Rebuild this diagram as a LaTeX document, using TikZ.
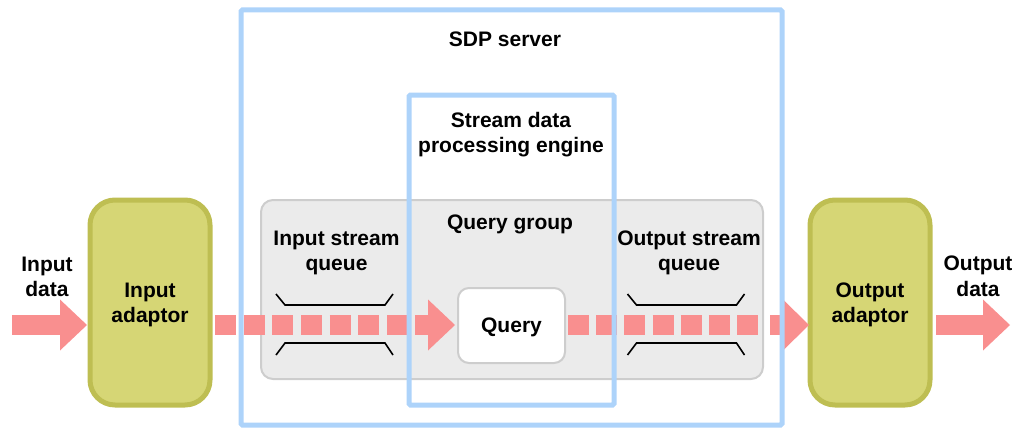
\documentclass[tikz,border=0pt]{standalone}
\usepackage{fontspec}
\setmainfont{Liberation Sans}
\usetikzlibrary{calc}

\definecolor{flowpink}{RGB}{249,143,143}
\definecolor{adaptorfill}{RGB}{214,214,117}
\definecolor{adaptorline}{RGB}{190,190,82}
\definecolor{framblue}{RGB}{173,211,250}
\definecolor{groupfill}{RGB}{235,235,235}
\definecolor{groupline}{RGB}{205,205,205}

\begin{document}
\begin{tikzpicture}[x=1pt,y=-1pt,
  font=\fontsize{21}{25.5}\selectfont\bfseries,
  adaptor/.style={draw=adaptorline, fill=adaptorfill, line width=5pt,
    rounded corners=25pt, minimum width=120pt, minimum height=205pt,
    inner sep=0pt, outer sep=0pt, align=center, text depth=0pt},
  frame/.style={draw=framblue, line width=5pt, rounded corners=1.5pt,
    inner sep=0pt, outer sep=0pt},
  groupbox/.style={draw=groupline, fill=groupfill, line width=2pt,
    rounded corners=12pt, inner sep=0pt, outer sep=0pt},
  querybox/.style={draw=groupline, fill=white, line width=2pt,
    rounded corners=11pt, inner sep=0pt, outer sep=0pt,
    minimum width=107pt, minimum height=75pt},
  lbl/.style={align=center, inner sep=0pt},
  shaft/.style={draw=flowpink, line width=20pt},
  dashedshaft/.style={shaft, dash pattern=on 21pt off #1},
  head/.style={fill=flowpink},
  qmark/.style={draw=black, line width=1.6pt}
]
\useasboundingbox (0,0) rectangle (1028,428);

% adaptors
\node[adaptor] (inA)  at (150,302.5) {};
\node[adaptor] (outA) at (870,302.5) {};
\node[lbl] (inAl)  at (150,305) {Input\\adaptor};
\node[lbl] (outAl) at (870,305) {Output\\adaptor};

% query group and query
\node[groupbox, minimum width=502pt, minimum height=179pt] (qg) at (512,289.5) {};
\node[lbl] (qgl) at (510,224.5) {Query group};
\node[querybox] (q) at (511.5,325.5) {};
\node[lbl] (ql) at (511.5,327) {Query};

% level of the data flow
\coordinate (flow) at (0,325);
\coordinate (inSrc) at (12,325);
\coordinate (outDst) at (1010,325);

% incoming data
\draw[shaft] (inSrc) -- ($(inA.west|-flow)+(-29,0)$);
\fill[head] ($(inA.west|-flow)+(-3,0)$) -- ++(-27,-25.5) -- ++(0,51) -- cycle;

% input adaptor to query
\draw[dashedshaft=7.67pt] ($(inA.east|-flow)+(5,0)$) -- ($(q.west|-flow)+(-50,0)$);
\draw[shaft] ($(q.west|-flow)+(-43,0)$) -- ($(q.west|-flow)+(-29,0)$);
\fill[head] ($(q.west|-flow)+(-3,0)$) -- ++(-27,-25.5) -- ++(0,51) -- cycle;

% query to output adaptor
\draw[dashedshaft=7.17pt] ($(q.east|-flow)+(3,0)$) -- ($(outA.west|-flow)+(-50,0)$);
\draw[shaft] ($(outA.west|-flow)+(-40,0)$) -- ($(outA.west|-flow)+(-25,0)$);
\fill[head] ($(outA.west|-flow)+(-1,0)$) -- ++(-26,-25.5) -- ++(0,51) -- cycle;

% outgoing data
\draw[shaft] ($(outA.east|-flow)+(6,0)$) -- ($(outDst)+(-26,0)$);
\fill[head] (outDst) -- ++(-27,-25.5) -- ++(0,51) -- cycle;

% stream queue marks
\foreach \cx in {334.5,686} {
  \begin{scope}[shift={(\cx,324.5)}]
    \draw[qmark] (-58.5,-30.5) -- (-49.5,-19.5) -- (50.5,-19.5) -- (58.5,-30.5);
    \draw[qmark] (-58.5,30.5) -- (-49.5,18.5) -- (50.5,18.5) -- (58.5,30.5);
  \end{scope}
}
\node[lbl] (inQl)  at (336.5,253) {Input stream\\queue};
\node[lbl] (outQl) at (689,253) {Output stream\\queue};

% server and engine frames
\node[frame, minimum width=541pt, minimum height=415pt] (srv) at (511.5,217.5) {};
\node[lbl] (srvl) at (505,39) {SDP server};
\node[frame, minimum width=205pt, minimum height=310pt] (eng) at (511.5,250) {};
\node[lbl] (engl) at (511,134.5) {Stream data\\processing engine};

% data labels
\node[lbl] (inDl)  at (47,277) {Input\\data};
\node[lbl] (outDl) at (978,276.5) {Output\\data};
\end{tikzpicture}
\end{document}
